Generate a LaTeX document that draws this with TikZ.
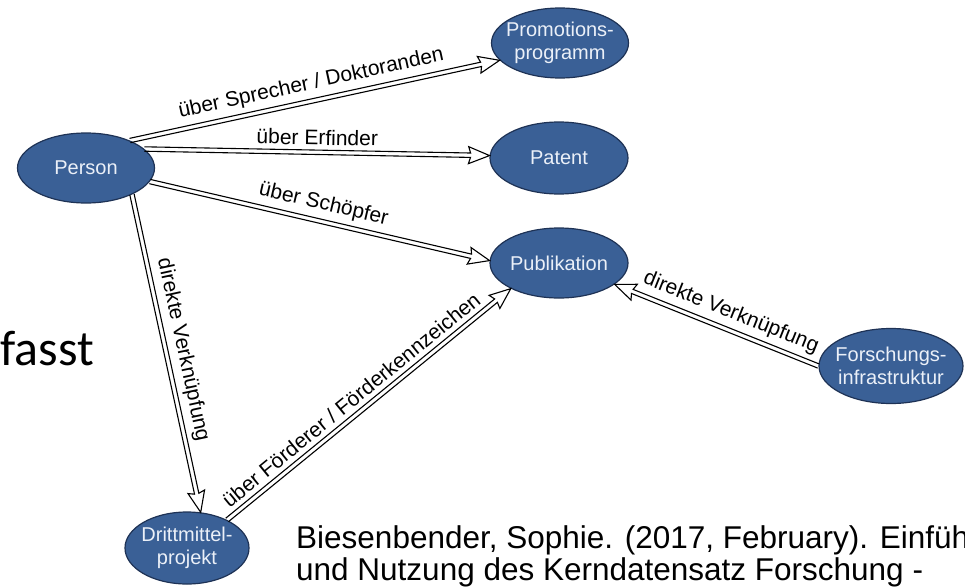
\documentclass[tikz,border=0pt]{standalone}
\usepackage{fontspec}
\setmainfont{Liberation Sans}
\newfontfamily\slidefont{Carlito}
\usetikzlibrary{calc,shapes.geometric}
\definecolor{blobfill}{RGB}{58,96,150}
\definecolor{blobedge}{RGB}{30,50,85}
\definecolor{blobtxt}{RGB}{235,240,248}

% hollow double-shaft arrow between two border points, with a sloped label
% #1 start, #2 end, #3 label position, #4 label text
\newcommand{\hollowarrow}[4]{%
  \path (#1) -- (#2) coordinate[pos=0] (ha-s) coordinate[pos=1] (ha-e)
        node[pos=#3, edgelabel] {#4};
  \coordinate (ha-j) at ($(ha-e)!19pt!(ha-s)$);
  \coordinate (ha-k) at ($(ha-e)!21pt!(ha-s)$);
  \draw[arrowline]
    ($(ha-s)!2.2pt!-90:(ha-e)$) -- ($(ha-j)!2.2pt!90:(ha-s)$)
    -- ($(ha-k)!8.5pt!90:(ha-s)$) -- (ha-e) -- ($(ha-k)!8.5pt!-90:(ha-s)$)
    -- ($(ha-j)!2.2pt!-90:(ha-s)$) -- ($(ha-s)!2.2pt!90:(ha-e)$);
}

\begin{document}
\begin{tikzpicture}[x=1pt,y=-1pt,
  blob/.style={ellipse, draw=blobedge, line width=1.2pt, fill=blobfill, inner sep=0pt},
  blobtext/.style={text=blobtxt, font=\fontsize{20}{23.5}\selectfont, align=center, inner sep=0pt},
  edgelabel/.style={sloped, anchor=south, inner xsep=1pt, inner ysep=7pt,
                    font=\fontsize{21}{24}\selectfont},
  arrowline/.style={draw=black, line width=1.1pt, line join=miter},
  citetext/.style={anchor=base west, inner sep=0pt, font=\fontsize{31.5}{35}\selectfont}
]
\useasboundingbox (0,0) rectangle (965,586);
\clip (0,0) rectangle (965,586);

% entities
\node[blob, minimum width=137pt, minimum height=70pt] (person) at (86,168) {};
\node[blobtext] (person-t) at (person) {Person};
\node[blob, minimum width=137pt, minimum height=70pt] (promo) at (560,43) {};
\node[blobtext] (promo-t) at (promo) {Promotions-\\programm};
\node[blob, minimum width=138pt, minimum height=72pt] (patent) at (559,158) {};
\node[blobtext] (patent-t) at (patent) {Patent};
\node[blob, minimum width=138pt, minimum height=70pt] (publ) at (559,263) {};
\node[blobtext] (publ-t) at (publ) {Publikation};
\node[blob, minimum width=144pt, minimum height=75pt] (forsch) at (891,366) {};
\node[blobtext] (forsch-t) at (forsch) {Forschungs-\\infrastruktur};
\node[blob, minimum width=124pt, minimum height=72pt] (dritt) at (187,548) {};
\node[blobtext] (dritt-t) at (dritt) {Drittmittel-\\projekt};

% relations
\hollowarrow{person.32}{promo.196}{0.5}{über Sprecher / Doktoranden}
\hollowarrow{person.18}{patent.178}{0.5}{über Erfinder}
\hollowarrow{person.-12}{publ.178}{0.5}{über Schöpfer}
\hollowarrow{person.-30}{dritt.69}{0.5}{direkte Verknüpfung}
\hollowarrow{dritt.35}{publ.-152}{0.47}{über Förderer / Förderkennzeichen}
\hollowarrow{forsch.180}{publ.-21}{0.46}{direkte Verknüpfung}

% slide text around the figure
\node[anchor=base west, inner sep=0pt, font=\slidefont\fontsize{50}{60}\selectfont] (fasst) at (0,365) {fasst};
\node[citetext] (cite1) at (296,548) {Biesenbender, Sophie. (2017, February). Einfüh};
\node[citetext] (cite2) at (296,580) {und Nutzung des Kerndatensatz Forschung -};
\end{tikzpicture}
\end{document}
